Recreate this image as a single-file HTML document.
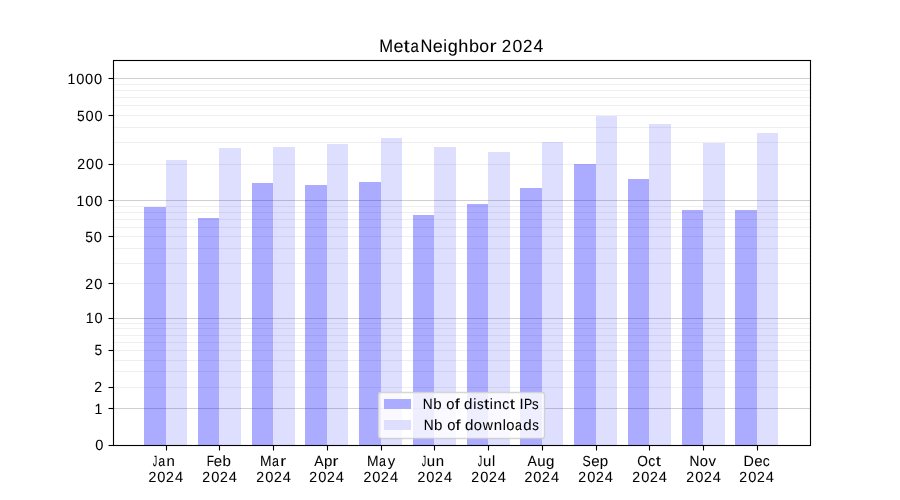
<!DOCTYPE html>
<html><head><meta charset="utf-8"><title>MetaNeighbor 2024</title>
<style>html,body{margin:0;padding:0;background:#fff;overflow:hidden}svg{display:block;will-change:transform}
text{font-family:"Liberation Sans",sans-serif;text-rendering:geometricPrecision}</style></head>
<body><svg width="900" height="500" viewBox="0 0 900 500">
<rect x="0" y="0" width="900" height="500" fill="#fff"/>
<g stroke="#b0b0b0" stroke-width="1.111" fill="none">
<path d="M112.5 408.5H810" stroke-opacity="0.6"/>
<path d="M112.5 387.5H810" stroke-opacity="0.2"/>
<path d="M112.5 371.5H810" stroke-opacity="0.2"/>
<path d="M112.5 360.5H810" stroke-opacity="0.2"/>
<path d="M112.5 350.5H810" stroke-opacity="0.2"/>
<path d="M112.5 342.5H810" stroke-opacity="0.2"/>
<path d="M112.5 335.5H810" stroke-opacity="0.2"/>
<path d="M112.5 328.5H810" stroke-opacity="0.2"/>
<path d="M112.5 323.5H810" stroke-opacity="0.2"/>
<path d="M112.5 318.5H810" stroke-opacity="0.6"/>
<path d="M112.5 283.5H810" stroke-opacity="0.2"/>
<path d="M112.5 263.5H810" stroke-opacity="0.2"/>
<path d="M112.5 248.5H810" stroke-opacity="0.2"/>
<path d="M112.5 236.5H810" stroke-opacity="0.2"/>
<path d="M112.5 227.5H810" stroke-opacity="0.2"/>
<path d="M112.5 219.5H810" stroke-opacity="0.2"/>
<path d="M112.5 212.5H810" stroke-opacity="0.2"/>
<path d="M112.5 206.5H810" stroke-opacity="0.2"/>
<path d="M112.5 200.5H810" stroke-opacity="0.6"/>
<path d="M112.5 164.5H810" stroke-opacity="0.2"/>
<path d="M112.5 142.5H810" stroke-opacity="0.2"/>
<path d="M112.5 127.5H810" stroke-opacity="0.2"/>
<path d="M112.5 115.5H810" stroke-opacity="0.2"/>
<path d="M112.5 105.5H810" stroke-opacity="0.2"/>
<path d="M112.5 97.5H810" stroke-opacity="0.2"/>
<path d="M112.5 90.5H810" stroke-opacity="0.2"/>
<path d="M112.5 84.5H810" stroke-opacity="0.2"/>
<path d="M112.5 78.5H810" stroke-opacity="0.6"/>
</g>
<g fill="#0000ff" shape-rendering="crispEdges">
<rect x="144" y="207" width="22" height="238" fill-opacity="0.33"/>
<rect x="166" y="160" width="21" height="285" fill-opacity="0.13"/>
<rect x="198" y="218" width="21" height="227" fill-opacity="0.33"/>
<rect x="219" y="148" width="22" height="297" fill-opacity="0.13"/>
<rect x="252" y="183" width="21" height="262" fill-opacity="0.33"/>
<rect x="273" y="147" width="22" height="298" fill-opacity="0.13"/>
<rect x="305" y="185" width="22" height="260" fill-opacity="0.33"/>
<rect x="327" y="144" width="21" height="301" fill-opacity="0.13"/>
<rect x="359" y="182" width="22" height="263" fill-opacity="0.33"/>
<rect x="381" y="138" width="21" height="307" fill-opacity="0.13"/>
<rect x="413" y="215" width="21" height="230" fill-opacity="0.33"/>
<rect x="434" y="147" width="22" height="298" fill-opacity="0.13"/>
<rect x="467" y="204" width="21" height="241" fill-opacity="0.33"/>
<rect x="488" y="152" width="22" height="293" fill-opacity="0.13"/>
<rect x="520" y="188" width="22" height="257" fill-opacity="0.33"/>
<rect x="542" y="142" width="21" height="303" fill-opacity="0.13"/>
<rect x="574" y="164" width="22" height="281" fill-opacity="0.33"/>
<rect x="596" y="116" width="21" height="329" fill-opacity="0.13"/>
<rect x="628" y="179" width="21" height="266" fill-opacity="0.33"/>
<rect x="649" y="124" width="22" height="321" fill-opacity="0.13"/>
<rect x="682" y="210" width="21" height="235" fill-opacity="0.33"/>
<rect x="703" y="143" width="22" height="302" fill-opacity="0.13"/>
<rect x="735" y="210" width="22" height="235" fill-opacity="0.33"/>
<rect x="757" y="133" width="21" height="312" fill-opacity="0.13"/>
</g>
<g stroke="#000" stroke-width="1.111" fill="none">
<rect x="113.5" y="60.5" width="697" height="385"/>
<path d="M108.5 445.5H113"/>
<path d="M108.5 408.5H113"/>
<path d="M108.5 387.5H113"/>
<path d="M108.5 350.5H113"/>
<path d="M108.5 318.5H113"/>
<path d="M108.5 283.5H113"/>
<path d="M108.5 236.5H113"/>
<path d="M108.5 200.5H113"/>
<path d="M108.5 164.5H113"/>
<path d="M108.5 115.5H113"/>
<path d="M108.5 78.5H113"/>
<path d="M166.5 446V450.5"/>
<path d="M219.5 446V450.5"/>
<path d="M273.5 446V450.5"/>
<path d="M327.5 446V450.5"/>
<path d="M381.5 446V450.5"/>
<path d="M434.5 446V450.5"/>
<path d="M488.5 446V450.5"/>
<path d="M542.5 446V450.5"/>
<path d="M596.5 446V450.5"/>
<path d="M649.5 446V450.5"/>
<path d="M703.5 446V450.5"/>
<path d="M757.5 446V450.5"/>
</g>
<g font-family="Liberation Sans, sans-serif" fill="#000" stroke="#000" stroke-width="0.06">
<text y="52.00" font-size="17.65"><tspan x="379.20" textLength="13.84" lengthAdjust="spacingAndGlyphs">M</tspan><tspan x="393.42" textLength="10.01" lengthAdjust="spacingAndGlyphs">e</tspan><tspan x="403.61" textLength="6.19" lengthAdjust="spacingAndGlyphs">t</tspan><tspan x="410.38" textLength="8.34" lengthAdjust="spacingAndGlyphs">a</tspan><tspan x="420.49" textLength="11.89" lengthAdjust="spacingAndGlyphs">N</tspan><tspan x="432.79" textLength="10.01" lengthAdjust="spacingAndGlyphs">e</tspan><tspan x="443.30" textLength="3.79" lengthAdjust="spacingAndGlyphs">i</tspan><tspan x="447.65" textLength="10.07" lengthAdjust="spacingAndGlyphs">g</tspan><tspan x="458.30" textLength="10.06" lengthAdjust="spacingAndGlyphs">h</tspan><tspan x="468.92" textLength="10.08" lengthAdjust="spacingAndGlyphs">b</tspan><tspan x="479.30" textLength="9.85" lengthAdjust="spacingAndGlyphs">o</tspan><tspan x="489.40" textLength="7.11" lengthAdjust="spacingAndGlyphs">r</tspan> <tspan x="501.79" textLength="9.42" lengthAdjust="spacingAndGlyphs">2</tspan><tspan x="512.41" textLength="9.77" lengthAdjust="spacingAndGlyphs">0</tspan><tspan x="522.94" textLength="9.42" lengthAdjust="spacingAndGlyphs">2</tspan><tspan x="533.56" textLength="9.77" lengthAdjust="spacingAndGlyphs">4</tspan></text>
<text y="450.00" font-size="14.70"><tspan x="95.32" textLength="8.14" lengthAdjust="spacingAndGlyphs">0</tspan></text>
<text y="414.00" font-size="14.70"><tspan x="94.48" textLength="7.78" lengthAdjust="spacingAndGlyphs">1</tspan></text>
<text y="392.00" font-size="14.70"><tspan x="94.31" textLength="7.85" lengthAdjust="spacingAndGlyphs">2</tspan></text>
<text y="355.00" font-size="14.70"><tspan x="94.58" textLength="7.68" lengthAdjust="spacingAndGlyphs">5</tspan></text>
<text y="323.00" font-size="14.70"><tspan x="85.79" textLength="7.78" lengthAdjust="spacingAndGlyphs">1</tspan><tspan x="94.50" textLength="8.14" lengthAdjust="spacingAndGlyphs">0</tspan></text>
<text y="289.00" font-size="14.70"><tspan x="85.33" textLength="7.85" lengthAdjust="spacingAndGlyphs">2</tspan><tspan x="94.20" textLength="8.14" lengthAdjust="spacingAndGlyphs">0</tspan></text>
<text y="242.00" font-size="14.70"><tspan x="85.21" textLength="7.68" lengthAdjust="spacingAndGlyphs">5</tspan><tspan x="93.87" textLength="8.14" lengthAdjust="spacingAndGlyphs">0</tspan></text>
<text y="206.00" font-size="14.70"><tspan x="76.59" textLength="7.78" lengthAdjust="spacingAndGlyphs">1</tspan><tspan x="85.30" textLength="8.14" lengthAdjust="spacingAndGlyphs">0</tspan><tspan x="94.13" textLength="8.14" lengthAdjust="spacingAndGlyphs">0</tspan></text>
<text y="169.00" font-size="14.70"><tspan x="77.26" textLength="7.85" lengthAdjust="spacingAndGlyphs">2</tspan><tspan x="86.12" textLength="8.14" lengthAdjust="spacingAndGlyphs">0</tspan><tspan x="94.95" textLength="8.14" lengthAdjust="spacingAndGlyphs">0</tspan></text>
<text y="121.00" font-size="14.70"><tspan x="76.95" textLength="7.68" lengthAdjust="spacingAndGlyphs">5</tspan><tspan x="85.60" textLength="8.14" lengthAdjust="spacingAndGlyphs">0</tspan><tspan x="94.43" textLength="8.14" lengthAdjust="spacingAndGlyphs">0</tspan></text>
<text y="84.00" font-size="14.70"><tspan x="67.56" textLength="7.78" lengthAdjust="spacingAndGlyphs">1</tspan><tspan x="76.27" textLength="8.14" lengthAdjust="spacingAndGlyphs">0</tspan><tspan x="85.09" textLength="8.14" lengthAdjust="spacingAndGlyphs">0</tspan><tspan x="93.92" textLength="8.14" lengthAdjust="spacingAndGlyphs">0</tspan></text>
<text y="466.00" font-size="14.70"><tspan x="152.80" textLength="4.41" lengthAdjust="spacingAndGlyphs">J</tspan><tspan x="158.13" textLength="6.95" lengthAdjust="spacingAndGlyphs">a</tspan><tspan x="166.60" textLength="8.33" lengthAdjust="spacingAndGlyphs">n</tspan></text>
<text y="482.00" font-size="14.70"><tspan x="148.40" textLength="7.85" lengthAdjust="spacingAndGlyphs">2</tspan><tspan x="157.26" textLength="8.14" lengthAdjust="spacingAndGlyphs">0</tspan><tspan x="166.05" textLength="7.85" lengthAdjust="spacingAndGlyphs">2</tspan><tspan x="174.91" textLength="8.14" lengthAdjust="spacingAndGlyphs">4</tspan></text>
<text y="466.00" font-size="14.70"><tspan x="206.78" textLength="7.27" lengthAdjust="spacingAndGlyphs">F</tspan><tspan x="213.75" textLength="8.34" lengthAdjust="spacingAndGlyphs">e</tspan><tspan x="222.45" textLength="8.40" lengthAdjust="spacingAndGlyphs">b</tspan></text>
<text y="482.00" font-size="14.70"><tspan x="202.31" textLength="7.85" lengthAdjust="spacingAndGlyphs">2</tspan><tspan x="211.17" textLength="8.14" lengthAdjust="spacingAndGlyphs">0</tspan><tspan x="219.96" textLength="7.85" lengthAdjust="spacingAndGlyphs">2</tspan><tspan x="228.83" textLength="8.14" lengthAdjust="spacingAndGlyphs">4</tspan></text>
<text y="466.00" font-size="14.70"><tspan x="259.88" textLength="11.54" lengthAdjust="spacingAndGlyphs">M</tspan><tspan x="271.92" textLength="6.95" lengthAdjust="spacingAndGlyphs">a</tspan><tspan x="280.20" textLength="5.93" lengthAdjust="spacingAndGlyphs">r</tspan></text>
<text y="482.00" font-size="14.70"><tspan x="256.32" textLength="7.85" lengthAdjust="spacingAndGlyphs">2</tspan><tspan x="265.18" textLength="8.14" lengthAdjust="spacingAndGlyphs">0</tspan><tspan x="273.97" textLength="7.85" lengthAdjust="spacingAndGlyphs">2</tspan><tspan x="282.84" textLength="8.14" lengthAdjust="spacingAndGlyphs">4</tspan></text>
<text y="466.00" font-size="14.70"><tspan x="314.21" textLength="9.33" lengthAdjust="spacingAndGlyphs">A</tspan><tspan x="323.91" textLength="8.40" lengthAdjust="spacingAndGlyphs">p</tspan><tspan x="332.51" textLength="5.93" lengthAdjust="spacingAndGlyphs">r</tspan></text>
<text y="482.00" font-size="14.70"><tspan x="309.31" textLength="7.85" lengthAdjust="spacingAndGlyphs">2</tspan><tspan x="318.18" textLength="8.14" lengthAdjust="spacingAndGlyphs">0</tspan><tspan x="326.97" textLength="7.85" lengthAdjust="spacingAndGlyphs">2</tspan><tspan x="335.83" textLength="8.14" lengthAdjust="spacingAndGlyphs">4</tspan></text>
<text y="466.00" font-size="14.70"><tspan x="367.02" textLength="11.54" lengthAdjust="spacingAndGlyphs">M</tspan><tspan x="379.07" textLength="6.95" lengthAdjust="spacingAndGlyphs">a</tspan><tspan x="387.65" textLength="7.46" lengthAdjust="spacingAndGlyphs">y</tspan></text>
<text y="482.00" font-size="14.70"><tspan x="363.39" textLength="7.85" lengthAdjust="spacingAndGlyphs">2</tspan><tspan x="372.26" textLength="8.14" lengthAdjust="spacingAndGlyphs">0</tspan><tspan x="381.05" textLength="7.85" lengthAdjust="spacingAndGlyphs">2</tspan><tspan x="389.91" textLength="8.14" lengthAdjust="spacingAndGlyphs">4</tspan></text>
<text y="466.00" font-size="14.70"><tspan x="421.63" textLength="4.41" lengthAdjust="spacingAndGlyphs">J</tspan><tspan x="426.87" textLength="8.33" lengthAdjust="spacingAndGlyphs">u</tspan><tspan x="435.72" textLength="8.33" lengthAdjust="spacingAndGlyphs">n</tspan></text>
<text y="482.00" font-size="14.70"><tspan x="417.39" textLength="7.85" lengthAdjust="spacingAndGlyphs">2</tspan><tspan x="426.26" textLength="8.14" lengthAdjust="spacingAndGlyphs">0</tspan><tspan x="435.05" textLength="7.85" lengthAdjust="spacingAndGlyphs">2</tspan><tspan x="443.91" textLength="8.14" lengthAdjust="spacingAndGlyphs">4</tspan></text>
<text y="466.00" font-size="14.70"><tspan x="477.86" textLength="4.41" lengthAdjust="spacingAndGlyphs">J</tspan><tspan x="483.10" textLength="8.33" lengthAdjust="spacingAndGlyphs">u</tspan><tspan x="492.04" textLength="3.15" lengthAdjust="spacingAndGlyphs">l</tspan></text>
<text y="482.00" font-size="14.70"><tspan x="471.30" textLength="7.85" lengthAdjust="spacingAndGlyphs">2</tspan><tspan x="480.17" textLength="8.14" lengthAdjust="spacingAndGlyphs">0</tspan><tspan x="488.96" textLength="7.85" lengthAdjust="spacingAndGlyphs">2</tspan><tspan x="497.82" textLength="8.14" lengthAdjust="spacingAndGlyphs">4</tspan></text>
<text y="466.00" font-size="14.70"><tspan x="527.57" textLength="9.33" lengthAdjust="spacingAndGlyphs">A</tspan><tspan x="537.18" textLength="8.33" lengthAdjust="spacingAndGlyphs">u</tspan><tspan x="545.90" textLength="8.40" lengthAdjust="spacingAndGlyphs">g</tspan></text>
<text y="482.00" font-size="14.70"><tspan x="524.38" textLength="7.85" lengthAdjust="spacingAndGlyphs">2</tspan><tspan x="533.24" textLength="8.14" lengthAdjust="spacingAndGlyphs">0</tspan><tspan x="542.03" textLength="7.85" lengthAdjust="spacingAndGlyphs">2</tspan><tspan x="550.89" textLength="8.14" lengthAdjust="spacingAndGlyphs">4</tspan></text>
<text y="466.00" font-size="14.70"><tspan x="582.59" textLength="8.26" lengthAdjust="spacingAndGlyphs">S</tspan><tspan x="591.17" textLength="8.34" lengthAdjust="spacingAndGlyphs">e</tspan><tspan x="599.87" textLength="8.40" lengthAdjust="spacingAndGlyphs">p</tspan></text>
<text y="482.00" font-size="14.70"><tspan x="578.31" textLength="7.85" lengthAdjust="spacingAndGlyphs">2</tspan><tspan x="587.17" textLength="8.14" lengthAdjust="spacingAndGlyphs">0</tspan><tspan x="595.97" textLength="7.85" lengthAdjust="spacingAndGlyphs">2</tspan><tspan x="604.83" textLength="8.14" lengthAdjust="spacingAndGlyphs">4</tspan></text>
<text y="466.00" font-size="14.70"><tspan x="637.20" textLength="10.68" lengthAdjust="spacingAndGlyphs">O</tspan><tspan x="648.16" textLength="6.97" lengthAdjust="spacingAndGlyphs">c</tspan><tspan x="655.71" textLength="5.16" lengthAdjust="spacingAndGlyphs">t</tspan></text>
<text y="482.00" font-size="14.70"><tspan x="632.30" textLength="7.85" lengthAdjust="spacingAndGlyphs">2</tspan><tspan x="641.16" textLength="8.14" lengthAdjust="spacingAndGlyphs">0</tspan><tspan x="649.95" textLength="7.85" lengthAdjust="spacingAndGlyphs">2</tspan><tspan x="658.82" textLength="8.14" lengthAdjust="spacingAndGlyphs">4</tspan></text>
<text y="466.00" font-size="14.70"><tspan x="689.43" textLength="9.91" lengthAdjust="spacingAndGlyphs">N</tspan><tspan x="699.72" textLength="8.21" lengthAdjust="spacingAndGlyphs">o</tspan><tspan x="708.42" textLength="7.49" lengthAdjust="spacingAndGlyphs">v</tspan></text>
<text y="482.00" font-size="14.70"><tspan x="686.31" textLength="7.85" lengthAdjust="spacingAndGlyphs">2</tspan><tspan x="695.18" textLength="8.14" lengthAdjust="spacingAndGlyphs">0</tspan><tspan x="703.97" textLength="7.85" lengthAdjust="spacingAndGlyphs">2</tspan><tspan x="712.83" textLength="8.14" lengthAdjust="spacingAndGlyphs">4</tspan></text>
<text y="466.00" font-size="14.70"><tspan x="743.56" textLength="10.38" lengthAdjust="spacingAndGlyphs">D</tspan><tspan x="754.19" textLength="8.34" lengthAdjust="spacingAndGlyphs">e</tspan><tspan x="762.77" textLength="6.97" lengthAdjust="spacingAndGlyphs">c</tspan></text>
<text y="482.00" font-size="14.70"><tspan x="739.30" textLength="7.85" lengthAdjust="spacingAndGlyphs">2</tspan><tspan x="748.16" textLength="8.14" lengthAdjust="spacingAndGlyphs">0</tspan><tspan x="756.95" textLength="7.85" lengthAdjust="spacingAndGlyphs">2</tspan><tspan x="765.82" textLength="8.14" lengthAdjust="spacingAndGlyphs">4</tspan></text>
</g>
<rect x="378.125" y="392" width="166.25" height="46.06" rx="2.78" ry="2.78" fill="#fff" fill-opacity="0.8"/>
<rect x="378.55" y="392.48" width="165.95" height="46.0" rx="2.78" ry="2.78" fill="none" stroke="#ccc" stroke-opacity="0.8" stroke-width="1.389"/>
<g shape-rendering="crispEdges"><rect x="384" y="399" width="27" height="10" fill="#ababff"/><rect x="384" y="420" width="27" height="10" fill="#dedeff"/></g>
<g font-family="Liberation Sans, sans-serif" fill="#000" stroke="#000" stroke-width="0.06">
<text y="409.00" font-size="14.70"><tspan x="422.85" textLength="9.91" lengthAdjust="spacingAndGlyphs">N</tspan><tspan x="433.28" textLength="8.40" lengthAdjust="spacingAndGlyphs">b</tspan> <tspan x="446.36" textLength="8.21" lengthAdjust="spacingAndGlyphs">o</tspan><tspan x="454.76" textLength="5.07" lengthAdjust="spacingAndGlyphs">f</tspan> <tspan x="464.13" textLength="8.40" lengthAdjust="spacingAndGlyphs">d</tspan><tspan x="473.16" textLength="3.15" lengthAdjust="spacingAndGlyphs">i</tspan><tspan x="477.04" textLength="6.66" lengthAdjust="spacingAndGlyphs">s</tspan><tspan x="483.98" textLength="5.16" lengthAdjust="spacingAndGlyphs">t</tspan><tspan x="489.69" textLength="3.15" lengthAdjust="spacingAndGlyphs">i</tspan><tspan x="493.45" textLength="8.33" lengthAdjust="spacingAndGlyphs">n</tspan><tspan x="502.15" textLength="6.97" lengthAdjust="spacingAndGlyphs">c</tspan><tspan x="509.70" textLength="5.16" lengthAdjust="spacingAndGlyphs">t</tspan> <tspan x="519.47" textLength="4.08" lengthAdjust="spacingAndGlyphs">I</tspan><tspan x="523.90" textLength="8.19" lengthAdjust="spacingAndGlyphs">P</tspan><tspan x="532.05" textLength="6.66" lengthAdjust="spacingAndGlyphs">s</tspan></text>
<text y="430.00" font-size="14.70"><tspan x="423.69" textLength="9.91" lengthAdjust="spacingAndGlyphs">N</tspan><tspan x="434.12" textLength="8.40" lengthAdjust="spacingAndGlyphs">b</tspan> <tspan x="447.20" textLength="8.21" lengthAdjust="spacingAndGlyphs">o</tspan><tspan x="455.60" textLength="5.07" lengthAdjust="spacingAndGlyphs">f</tspan> <tspan x="464.97" textLength="8.40" lengthAdjust="spacingAndGlyphs">d</tspan><tspan x="473.79" textLength="8.21" lengthAdjust="spacingAndGlyphs">o</tspan><tspan x="482.74" textLength="10.14" lengthAdjust="spacingAndGlyphs">w</tspan><tspan x="493.75" textLength="8.33" lengthAdjust="spacingAndGlyphs">n</tspan><tspan x="502.63" textLength="3.15" lengthAdjust="spacingAndGlyphs">l</tspan><tspan x="506.28" textLength="8.21" lengthAdjust="spacingAndGlyphs">o</tspan><tspan x="514.92" textLength="6.95" lengthAdjust="spacingAndGlyphs">a</tspan><tspan x="523.25" textLength="8.40" lengthAdjust="spacingAndGlyphs">d</tspan><tspan x="532.31" textLength="6.66" lengthAdjust="spacingAndGlyphs">s</tspan></text>
</g>
</svg></body></html>
